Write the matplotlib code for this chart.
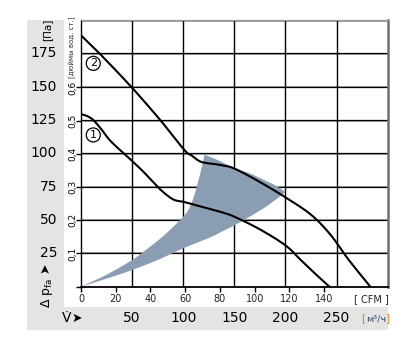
import matplotlib
matplotlib.use("Agg")
import matplotlib.pyplot as plt
from matplotlib.patches import Rectangle
import numpy as np

# ---------------- data ----------------
curve1_q = [0, 6, 12, 20, 28, 41, 49, 60, 70, 78, 86, 91.5, 97, 101, 120, 137, 150, 175, 200, 215, 228, 243]
curve1_p = [129.5, 128, 125, 118, 110, 100.5, 95, 87, 79, 72.6, 67.5, 65, 64, 63.5, 59.5, 56, 52.5, 43, 31, 20, 10.5, 0]

curve2_q = [0, 18, 49, 77.5, 101, 108, 113, 117, 122, 137, 150, 175, 200, 225, 244, 262, 283]
curve2_p = [188.5, 175, 150, 125, 102.6, 98.5, 95.5, 93.8, 92.8, 91.2, 88.6, 78.5, 67, 54, 39, 20, 0]

area_upper_q = [0, 25, 50, 65, 82, 100, 106, 111, 116, 121]
area_upper_p = [0, 9, 20, 28.5, 39, 52.5, 59, 69, 83, 99]
area_arc_q = [121, 135, 150, 165, 179, 190, 200]
area_arc_p = [99, 94.5, 89, 85, 80, 76, 71]
area_lower_q = [200, 190, 179, 165, 150, 137, 125, 100, 75, 50, 28, 0]
area_lower_p = [71, 65, 59, 52.5, 46, 41, 36.5, 28.8, 20, 12.5, 6.8, 0]

pa_ticks = [25, 50, 75, 100, 125, 150, 175]
inh2o_ticks = [0.1, 0.2, 0.3, 0.4, 0.5, 0.6]
inh2o_labels = ["0,1", "0,2", "0,3", "0,4", "0,5", "0,6"]
cfm_ticks = [0, 20, 40, 60, 80, 100, 120, 140]
m3h_ticks = [50, 100, 150, 200, 250]
vgrid = [50, 100, 150, 200, 250]

PA_PER_INH2O = 249.09
M3H_PER_CFM = 1.699


def smooth(xs, ys, n=12):
    """Catmull-Rom rendering through the read points."""
    x = np.asarray(xs, float)
    y = np.asarray(ys, float)
    P = np.column_stack([x, y])
    P = np.vstack([P[0] * 2 - P[1], P, P[-1] * 2 - P[-2]])
    out = []
    for i in range(1, len(P) - 2):
        p0, p1, p2, p3 = P[i - 1], P[i], P[i + 1], P[i + 2]
        for t in np.linspace(0, 1, n, endpoint=False):
            t2, t3 = t * t, t * t * t
            pt = 0.5 * ((2 * p1) + (-p0 + p2) * t + (2 * p0 - 5 * p1 + 4 * p2 - p3) * t2
                        + (-p0 + 3 * p1 - 3 * p2 + p3) * t3)
            out.append(pt)
    out.append(P[-2])
    out = np.array(out)
    return out[:, 0], out[:, 1]


# ---------------- figure ----------------
W, H = 415, 359
fig = plt.figure(figsize=(W / 100, H / 100), dpi=100)
fig.patch.set_facecolor("white")

FONT = ["Liberation Sans Narrow", "DejaVu Sans"]

def fx(px):
    return px / W

def fy(py):
    return 1 - py / H

# gray L-shaped background
bg = "#e4e4e4"
fig.patches.append(Rectangle((fx(27), fy(330)), fx(64) - fx(27), fy(20) - fy(330),
                             transform=fig.transFigure, facecolor=bg, edgecolor="none", zorder=0))
fig.patches.append(Rectangle((fx(27), fy(330)), fx(388) - fx(27), fy(307) - fy(330),
                             transform=fig.transFigure, facecolor=bg, edgecolor="none", zorder=0))

L, R, T, B = 81, 387.7, 20, 286.7
ax = fig.add_axes([fx(L), fy(B), fx(R) - fx(L), fy(T) - fy(B)])
ax.set_xlim(0, 300)
ax.set_ylim(0, 200)
ax.set_facecolor("white")

# grid lines
for k in range(1, 9):
    ax.axhline(k * 0.1 * PA_PER_INH2O, color="#9a9a9a", lw=1.3, zorder=1)
for p in pa_ticks:
    ax.axhline(p, color="black", lw=0.9, zorder=1.5)
for v in vgrid:
    ax.axvline(v, color="black", lw=1.0, zorder=1.5)

# operating area
uq, up = smooth(area_upper_q, area_upper_p)
aq, ap = smooth(area_arc_q, area_arc_p)
lq, lp = smooth(area_lower_q, area_lower_p)
poly_q = np.concatenate([uq, aq[1:], lq[1:]])
poly_p = np.concatenate([up, ap[1:], lp[1:]])
ax.fill(poly_q, poly_p, color="#8b9db2", lw=0, zorder=2)

# curves
c1q, c1p = smooth(curve1_q, curve1_p)
c2q, c2p = smooth(curve2_q, curve2_p)
ax.plot(c1q, c1p, color="black", lw=1.5, zorder=3, solid_joinstyle="round")
ax.plot(c2q, c2p, color="black", lw=1.5, zorder=3, solid_joinstyle="round")

# circled labels
for s, q, p in [("1", 12, 113.8), ("2", 12, 167.5)]:
    ax.text(q, p, s, ha="center", va="center", fontsize=8, family=FONT, zorder=4,
            bbox=dict(boxstyle="circle,pad=0.18", fc="white", ec="black", lw=0.9))

# spines
ax.spines["left"].set_color("black")
ax.spines["left"].set_linewidth(1.0)
ax.spines["bottom"].set_color("black")
ax.spines["bottom"].set_linewidth(1.3)
ax.spines["top"].set_color("#9a9a9a")
ax.spines["top"].set_linewidth(0.9)
ax.spines["right"].set_color("#707070")
ax.spines["right"].set_linewidth(1.8)

# ticks: CFM at bottom, inH2O on left
ax.set_xticks([c * M3H_PER_CFM for c in cfm_ticks])
ax.set_xticklabels([])
ax.set_yticks([0] + [t * PA_PER_INH2O for t in inh2o_ticks])
ax.set_yticklabels([])
ax.tick_params(axis="x", direction="out", length=3.5, width=1.0, color="black")
ax.tick_params(axis="y", direction="out", length=3.5, width=1.0, color="black")

def ypx(p):
    return B - (B - T) * p / 200.0

def xpx(q):
    return L + (R - L) * q / 300.0

# Pa labels
for p in pa_ticks:
    fig.text(fx(57), fy(ypx(p)), str(p), ha="right", va="center", fontsize=10, family=FONT)
fig.text(fx(47), fy(30), "[Па]", ha="center", va="center", rotation=90, fontsize=7.5, family=FONT)

# inH2O labels
for t, lab in zip(inh2o_ticks, inh2o_labels):
    fig.text(fx(72.5), fy(ypx(t * PA_PER_INH2O)), lab, ha="center", va="center", rotation=90,
             fontsize=6.5, family=FONT)
fig.text(fx(72.5), fy(47), "[дюймы вод. ст.]", ha="center", va="center", rotation=90,
         fontsize=5, family=FONT, color="#333333")

# delta p label
fig.text(fx(47), fy(285), r"$\Delta\ \mathrm{p}_{\mathrm{fa}}$ ➤", ha="center", va="center",
         rotation=90, fontsize=9, family=["DejaVu Sans"])

# CFM labels
for c in cfm_ticks:
    fig.text(fx(xpx(c * M3H_PER_CFM)), fy(299), str(c), ha="center", va="center",
             fontsize=7, family=FONT, color="#222222")
fig.text(fx(371), fy(299), "[ CFM ]", ha="center", va="center", fontsize=7, family=FONT, color="#222222")

# m3/h labels
for m in m3h_ticks:
    fig.text(fx(xpx(m)), fy(318.5), str(m), ha="center", va="center", fontsize=10, family=FONT)
fig.text(fx(62), fy(318.5), "V\u0307", ha="left", va="center", fontsize=10, family=["DejaVu Sans"])
fig.text(fx(72), fy(318.5), "➤", ha="left", va="center", fontsize=9, family=["DejaVu Sans"])
fig.text(fx(365.5), fy(318.5), "[", ha="right", va="center", fontsize=7.5, family=FONT, color="#d08020")
fig.text(fx(375.8), fy(318.5), "м³/ч", ha="center", va="center", fontsize=6.8, family=FONT, color="#3a4a70")
fig.text(fx(386), fy(318.5), "]", ha="left", va="center", fontsize=7.5, family=FONT, color="#d08020")

fig.savefig("out.png", dpi=100)
